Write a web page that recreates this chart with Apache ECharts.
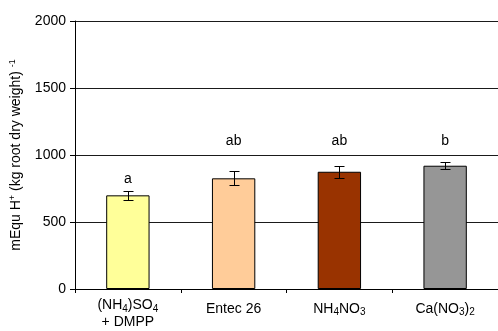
<!DOCTYPE html>
<html>
<head>
<meta charset="utf-8">
<script src="https://cdn.jsdelivr.net/npm/echarts@6/dist/echarts.min.js"></script>
<style>html,body{margin:0;padding:0;background:#fff;}#c{width:498px;height:331px;}</style>
</head>
<body>
<div id="c"></div>
<script>
var categories = ['(NH4)SO4\n+ DMPP', 'Entec 26', 'NH4NO3', 'Ca(NO3)2'];
var values = [699, 826, 875, 920];
var errors = [36, 52, 43, 28];
var letters = ['a', 'ab', 'ab', 'b'];
var letterPos = [821, 1104, 1104, 1104];
var colors = ['#FFFF99', '#FFCC99', '#993300', '#969696'];
var yTicks = [0, 500, 1000, 1500, 2000];

var font = 'Liberation Sans, Arial, sans-serif';

function toRich(s) {
  var lines = s.split('\n');
  var single = lines.length === 1;
  var n = single ? 'm' : 'n';
  return lines.map(function (line) {
    var parts = line.split(/(?<=[A-Za-z)])(\d)/);
    var out = '';
    parts.forEach(function (p, i) {
      if (p === '') return;
      if (i % 2 === 1) out += '{s|' + p + '}';
      else out += '{' + n + '|' + p + '}';
    });
    return out;
  }).join('\n');
}

var chart = echarts.init(document.getElementById('c'), null, {renderer: 'canvas'});
var option = {
  animation: false,
  backgroundColor: '#fff',
  grid: {left: 73, right: 0, top: 21, bottom: 42, containLabel: false},
  xAxis: {
    type: 'category',
    data: categories,
    axisLine: {lineStyle: {color: '#000', width: 1}},
    axisTick: {show: true, length: 4, lineStyle: {color: '#000'}},
    axisLabel: {
      interval: 0, margin: 8, color: '#000',
      formatter: function (v) { return toRich(v); },
      rich: {
        n: {fontSize: 14, fontFamily: font, color: '#000', lineHeight: 17},
        m: {fontSize: 14, fontFamily: font, color: '#000', lineHeight: 24},
        s: {fontSize: 10, fontFamily: font, color: '#000', lineHeight: 10, verticalAlign: 'middle', padding: [7, 0, 0, 0]}
      }
    }
  },
  yAxis: {
    type: 'value', min: 0, max: 2000, interval: 500,
    axisLine: {show: true, lineStyle: {color: '#000', width: 1}},
    axisTick: {show: true, length: 5, lineStyle: {color: '#000'}},
    axisLabel: {
      color: '#000', fontSize: 14, fontFamily: font, margin: 9,
      formatter: function (v) { return yTicks.indexOf(v) >= 0 ? String(v) : ''; }
    },
    splitLine: {show: true, lineStyle: {color: '#1a1a1a', width: 1}},
    name: '{n|mEqu H}{sup|+}{n| (kg root dry weight) }{sup|-1}',
    nameLocation: 'middle',
    nameRotate: 90,
    nameGap: 50,
    nameTextStyle: {
      rich: {
        n: {fontSize: 14, fontFamily: font, color: '#000', lineHeight: 17},
        sup: {fontSize: 9, fontFamily: font, color: '#000', lineHeight: 9, verticalAlign: 'top'}
      }
    }
  },
  series: [
    {
      type: 'bar',
      barWidth: '41%',
      data: values.map(function (v, i) {
        return {value: v, itemStyle: {color: colors[i], borderColor: '#000', borderWidth: 1}};
      })
    },
    {
      type: 'custom',
      data: values.map(function (v, i) { return [i, v - errors[i], v + errors[i]]; }),
      renderItem: function (params, api) {
        var x = Math.round(api.coord([api.value(0), 0])[0]) + 0.5;
        var lo = Math.round(api.coord([api.value(0), api.value(1)])[1]) + 0.5;
        var hi = Math.round(api.coord([api.value(0), api.value(2)])[1]) + 0.5;
        var w = 5;
        var st = {stroke: '#000', lineWidth: 1};
        return {
          type: 'group',
          children: [
            {type: 'line', shape: {x1: x, y1: lo, x2: x, y2: hi}, style: st},
            {type: 'line', shape: {x1: x - w, y1: lo, x2: x + w, y2: lo}, style: st},
            {type: 'line', shape: {x1: x - w, y1: hi, x2: x + w, y2: hi}, style: st}
          ]
        };
      },
      z: 5
    },
    {
      type: 'custom',
      data: letterPos.map(function (v, i) { return [i, v]; }),
      renderItem: function (params, api) {
        var p = api.coord([api.value(0), api.value(1)]);
        return {
          type: 'text',
          style: {
            text: letters[params.dataIndex],
            x: p[0], y: p[1],
            align: 'center', verticalAlign: 'middle',
            fontSize: 14, fontFamily: font, fill: '#000'
          }
        };
      },
      z: 6
    }
  ]
};
chart.setOption(option);
</script>
</body>
</html>
